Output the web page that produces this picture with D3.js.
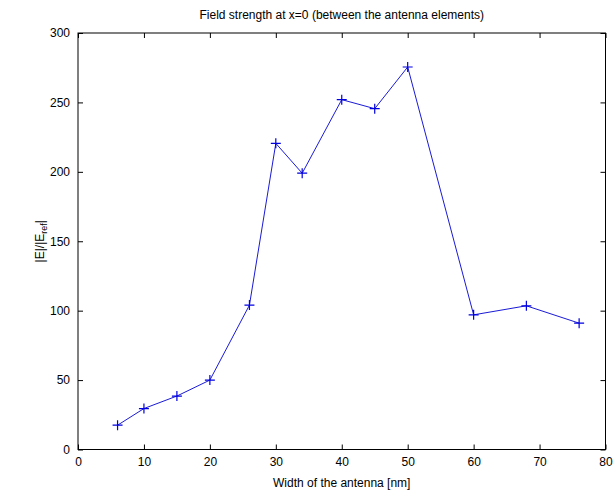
<!DOCTYPE html>
<html>
<head>
<meta charset="utf-8">
<script src="https://cdn.jsdelivr.net/npm/d3@7"></script>
<style>
  body { margin: 0; background: #fff; }
  svg text { font-family: Arial, "Liberation Sans", sans-serif; fill: #000; }
</style>
</head>
<body>
<svg width="616" height="497"></svg>
<script>
let width = 616, height = 497;

// antenna width [nm]
let widths = [6, 10, 15, 20, 26, 30, 34, 40, 45, 50, 60, 68, 76];
// |E|/|E_ref| at x=0
let fieldRatio = [17.5, 29.5, 38.5, 50, 104, 220.5, 199, 252, 245.5, 275.5, 97, 103.5, 91];
let xTicks = [0, 10, 20, 30, 40, 50, 60, 70, 80];
let yTicks = [0, 50, 100, 150, 200, 250, 300];

let margin = { left: 78, right: 616 - 605.5, top: 33, bottom: 497 - 449.5 };

let svg = d3.select('svg');

let x = d3.scaleLinear().domain([0, 80]).range([margin.left, width - margin.right]);
let y = d3.scaleLinear().domain([0, 300]).range([height - margin.bottom, margin.top]);

let tickLen = 5;

// axes box
svg.append('rect')
  .attr('x', x(0)).attr('y', y(300))
  .attr('width', x(80) - x(0)).attr('height', y(0) - y(300))
  .attr('fill', '#fff').attr('stroke', '#000').attr('stroke-width', 1);

// inward ticks, all four sides (matlab style)
let axisBottom = d3.axisBottom(x).tickValues(xTicks).tickSize(-tickLen).tickPadding(8);
let axisTop = d3.axisTop(x).tickValues(xTicks).tickSize(-tickLen).tickFormat('');
let axisLeft = d3.axisLeft(y).tickValues(yTicks).tickSize(-tickLen).tickPadding(8);
let axisRight = d3.axisRight(y).tickValues(yTicks).tickSize(-tickLen).tickFormat('');

let gb = svg.append('g').attr('transform', `translate(0,${y(0)})`).call(axisBottom);
let gt = svg.append('g').attr('transform', `translate(0,${y(300)})`).call(axisTop);
let gl = svg.append('g').attr('transform', `translate(${x(0)},0)`).call(axisLeft);
let gr = svg.append('g').attr('transform', `translate(${x(80)},0)`).call(axisRight);

[gb, gt, gl, gr].forEach(g => {
  g.select('.domain').remove();
  g.selectAll('line').attr('stroke', '#000');
  g.selectAll('text').attr('font-size', 12).attr('font-family', 'Arial, "Liberation Sans", sans-serif').attr('fill', '#000');
});

// series line
let line = d3.line().x((d, i) => x(widths[i])).y(d => y(d));
svg.append('path')
  .datum(fieldRatio)
  .attr('fill', 'none')
  .attr('stroke', '#1a1ad6')
  .attr('stroke-width', 1)
  .attr('d', line);

// "+" markers
let m = 5;
svg.append('g')
  .selectAll('path')
  .data(fieldRatio)
  .join('path')
  .attr('d', (d, i) => {
    let cx = x(widths[i]), cy = y(d);
    return `M${cx - m},${cy}H${cx + m}M${cx},${cy - m}V${cy + m}`;
  })
  .attr('stroke', '#0000e0')
  .attr('stroke-width', 1.2)
  .attr('fill', 'none');

// title & labels
svg.append('text')
  .attr('x', (x(0) + x(80)) / 2).attr('y', 19)
  .attr('text-anchor', 'middle').attr('font-size', 12)
  .text('Field strength at x=0 (between the antenna elements)');

svg.append('text')
  .attr('x', (x(0) + x(80)) / 2).attr('y', 487)
  .attr('text-anchor', 'middle').attr('font-size', 12)
  .text('Width of the antenna [nm]');

let yl = svg.append('text')
  .attr('transform', `translate(44,${(y(0) + y(300)) / 2}) rotate(-90)`)
  .attr('text-anchor', 'middle').attr('font-size', 12);
yl.append('tspan').text('|E|/|E');
yl.append('tspan').attr('font-size', 9).attr('dy', 3).text('ref');
yl.append('tspan').attr('dy', -3).text('|');
</script>
</body>
</html>
